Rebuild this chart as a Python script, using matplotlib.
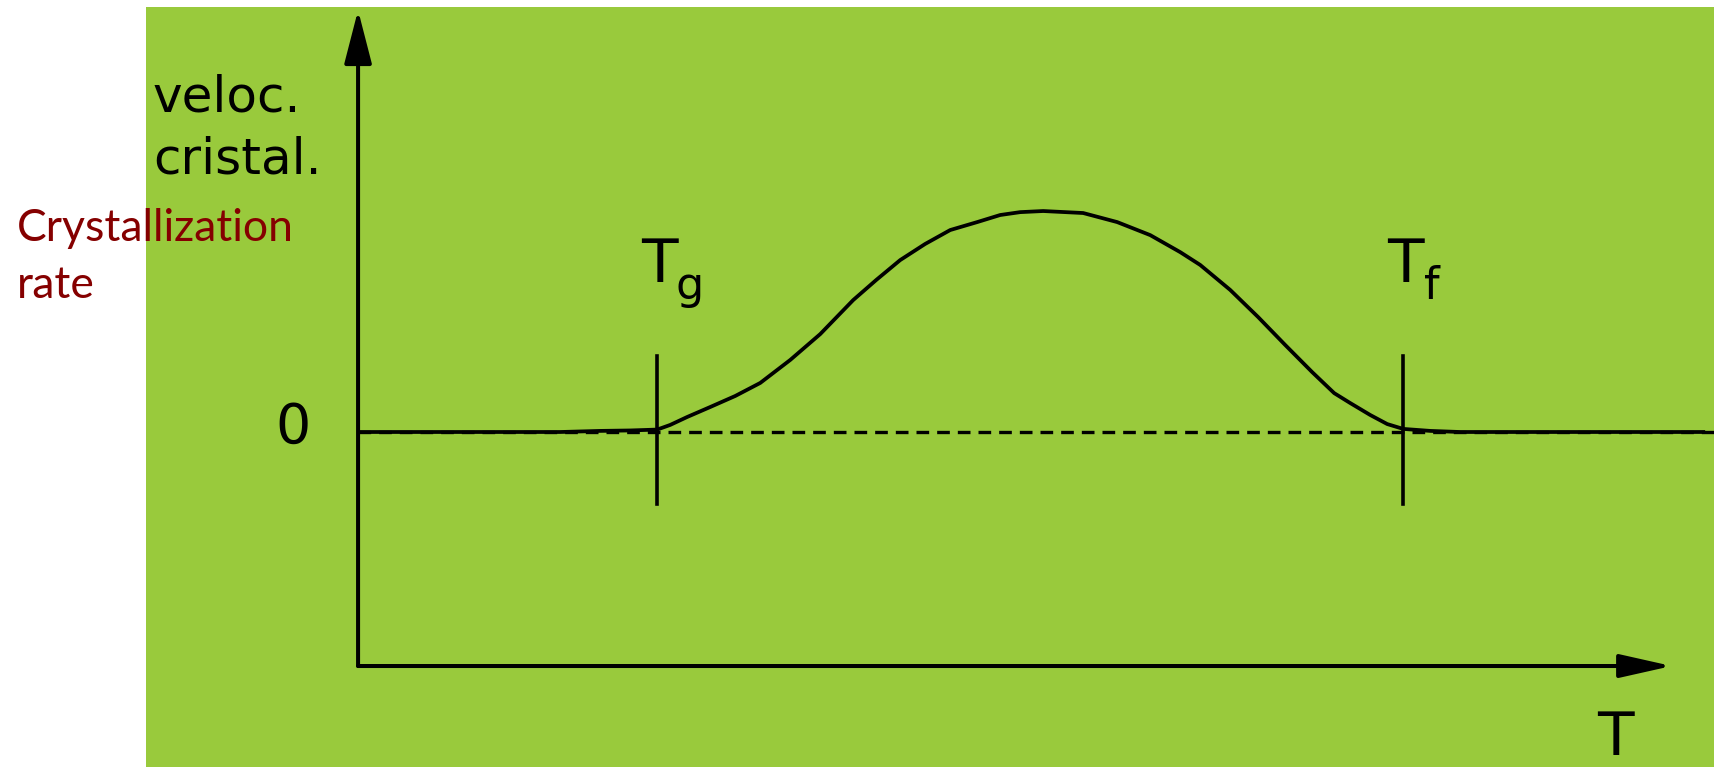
import matplotlib.pyplot as plt
from matplotlib.patches import Rectangle

# reduced temperature: T_g -> 0, T_f -> 1 ; rate normalised to its maximum
TG = 0.0
TF = 1.0
t_curve = [-0.401, -0.130, -0.076, -0.036, 0.0, 0.0174, 0.0402, 0.0710, 0.1046,
           0.1381, 0.1783, 0.2185, 0.2627, 0.2936, 0.3257, 0.3592, 0.3928,
           0.4290, 0.4598, 0.4866, 0.5174, 0.5710, 0.6166, 0.6609, 0.7011,
           0.7279, 0.7681, 0.8056, 0.8418, 0.8780, 0.9075, 0.9290, 0.9558,
           0.9786, 1.0, 1.0362, 1.0764, 1.4048]
rate_curve = [0.0, 0.0, 0.005, 0.007, 0.011, 0.032, 0.068, 0.113, 0.163,
              0.222, 0.326, 0.443, 0.597, 0.688, 0.778, 0.851, 0.914,
              0.950, 0.982, 0.995, 1.0, 0.991, 0.950, 0.891, 0.814,
              0.756, 0.643, 0.520, 0.394, 0.271, 0.176, 0.131, 0.077,
              0.036, 0.014, 0.005, 0.0, 0.0]

# frame of the sketch (data units)
T_AXIS_START = -0.401
T_AXIS_END = 1.360
RATE_AXIS_BOTTOM = -1.059
RATE_AXIS_TOP = 1.909
ZERO_LINE_END = 1.418
MARK_SPAN = (0.344, -0.326)

GREEN = "#99CA3C"
DARK_RED = "#850000"

fig = plt.figure(figsize=(17.15, 7.67), dpi=100)
ax = fig.add_axes([0, 0, 1, 1])
ax.set_xlim(-0.881, 1.418)
ax.set_ylim(-1.516, 1.955)
ax.axis("off")
ax.add_patch(Rectangle((146 / 1715, 0), 1 - 146 / 1715, 760 / 767,
                       transform=fig.transFigure, facecolor=GREEN,
                       edgecolor="none", zorder=0))

# zero-rate reference and the rate curve
ax.plot([T_AXIS_START, ZERO_LINE_END], [0, 0], color="black", lw=2.4,
        dashes=(3.8, 2.4), zorder=2)
ax.plot(t_curve, rate_curve, color="black", lw=2.7, solid_joinstyle="round",
        solid_capstyle="butt", zorder=3)

# axes with arrow heads
arrow = dict(arrowstyle="-|>,head_length=33,head_width=8.5", mutation_scale=1,
             lw=2.9, color="black", shrinkA=0, shrinkB=0)
ax.annotate("", xy=(T_AXIS_START, RATE_AXIS_TOP),
            xytext=(T_AXIS_START, RATE_AXIS_BOTTOM), arrowprops=arrow)
arrow_t = dict(arrow, arrowstyle="-|>,head_length=32,head_width=7.2")
ax.annotate("", xy=(T_AXIS_END, RATE_AXIS_BOTTOM),
            xytext=(T_AXIS_START, RATE_AXIS_BOTTOM), arrowprops=arrow_t)

# T_g and T_f markers with their labels
font = dict(family="DejaVu Sans", color="black", va="baseline")
for t, sub, dx in ((TG, "g", 0.025), (TF, "f", 0.028)):
    ax.plot([t, t], MARK_SPAN, color="black", lw=2.6, zorder=3)
    ax.text(t - 0.022, 0.679, "T", fontsize=43, ha="left", **font)
    ax.text(t + dx, 0.602, sub, fontsize=32, ha="left", **font)

ax.text(-0.464, -0.05, "0", fontsize=40, ha="right", **font)
ax.text(1.284, -1.462, "T", fontsize=43, ha="center", **font)
ax.text(-0.676, 1.452, "veloc.", fontsize=36, ha="left", **font)
ax.text(-0.676, 1.172, "cristal.", fontsize=36, ha="left", **font)

ax.text(-0.859, 0.864, "Crystallization", fontsize=32, family="Lato",
        color=DARK_RED, ha="left", va="baseline")
ax.text(-0.859, 0.606, "rate", fontsize=32, family="Lato",
        color=DARK_RED, ha="left", va="baseline")

fig.savefig("out.png", dpi=100)
